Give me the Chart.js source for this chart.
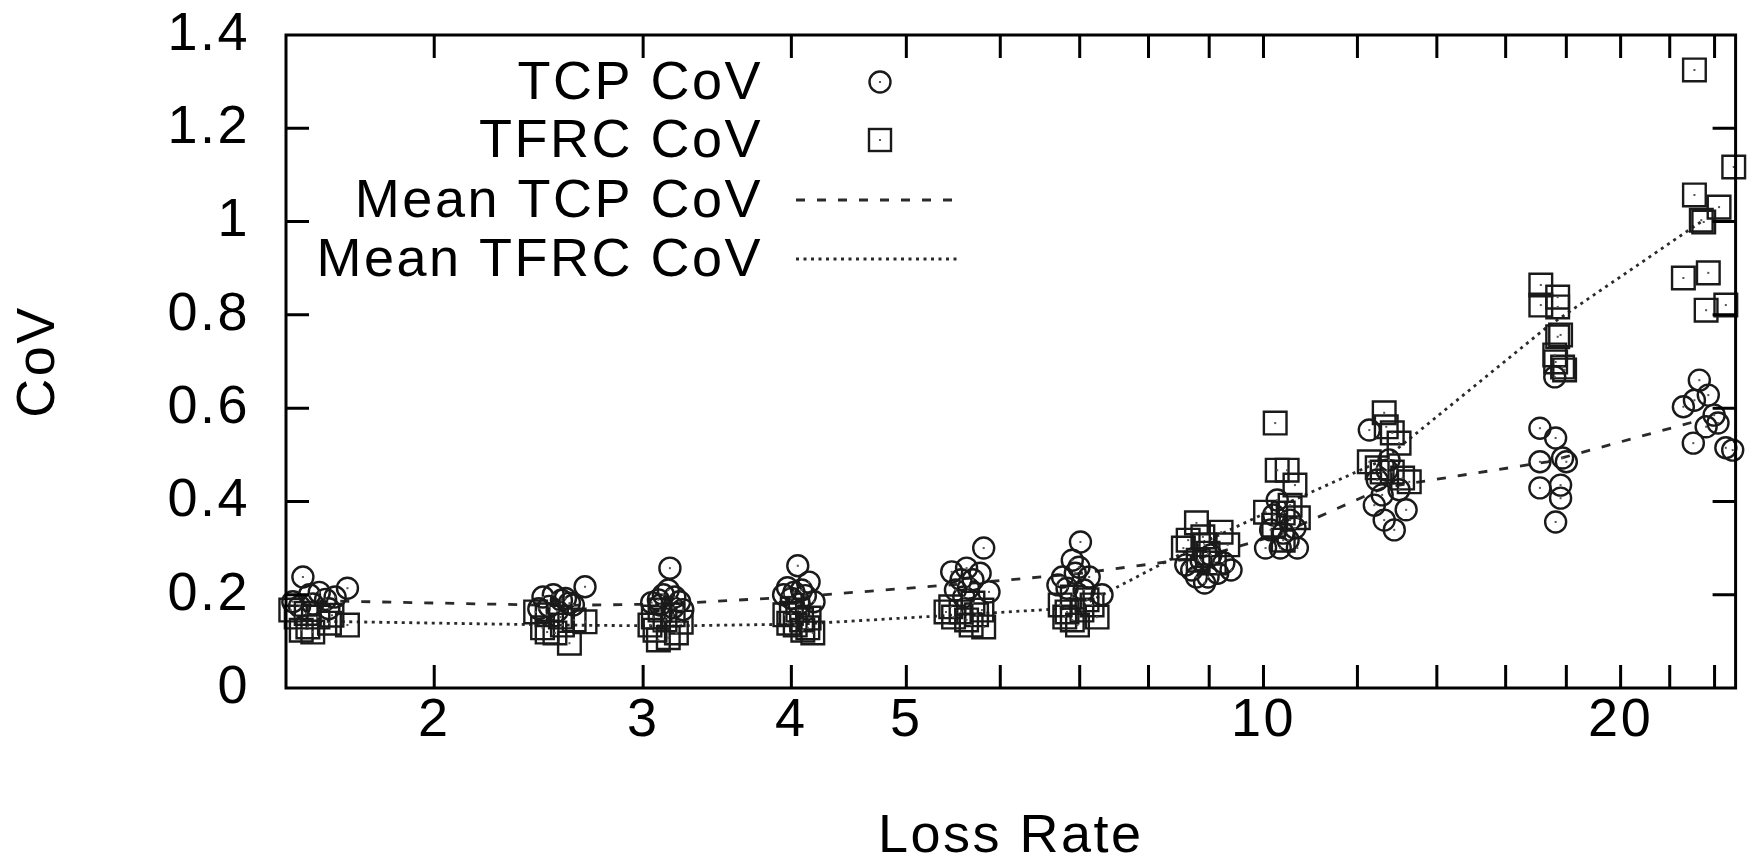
<!DOCTYPE html>
<html>
<head>
<meta charset="utf-8">
<title>CoV vs Loss Rate</title>
<script src="https://cdn.jsdelivr.net/npm/chart.js"></script>
<style>
  html, body { margin: 0; padding: 0; background: #fff; }
  #wrap { width: 1754px; height: 861px; }
</style>
</head>
<body>
<div id="wrap"><canvas id="covChart" width="1754" height="861"></canvas></div>
<script>
// ---- values (one line per loss-rate cluster) ----
const tcpLoss = [
  1.55, 1.69, 1.52, 1.57, 1.60, 1.62, 1.58, 1.65, 1.54, 1.63,
  2.68, 2.47, 2.52, 2.56, 2.60, 2.50, 2.58, 2.45, 2.54, 2.62,
  3.16, 3.15, 3.19, 3.09, 3.12, 3.22, 3.10, 3.18, 3.05, 3.24,
  4.05, 4.14, 3.97, 4.02, 4.08, 4.11, 3.94, 4.18, 4.00, 4.06,
  5.81, 5.46, 5.62, 5.77, 5.56, 5.69, 5.64, 5.50, 5.87, 5.59,
  7.01, 6.90, 6.99, 6.77, 6.94, 7.13, 7.31, 6.83, 7.06, 6.71,
  8.78, 8.98, 9.15, 9.26, 8.86, 8.60, 9.03, 9.39, 8.70, 8.92,
  10.04, 10.68, 10.33, 10.39, 10.27, 10.53, 10.14, 10.49, 10.20, 10.63,
  12.28, 12.59, 13.19, 12.64, 12.89, 12.47, 12.71, 13.01, 12.40, 12.76,
  17.10, 17.63, 17.10, 17.87, 18.00, 17.10, 17.80, 17.80, 17.63, 17.60,
  23.30, 23.71, 23.08, 22.59, 24.16, 23.61, 23.03, 24.53, 24.86, 23.98
];
const tcpCov = [
  0.238, 0.214, 0.185, 0.200, 0.205, 0.190, 0.180, 0.195, 0.175, 0.170,
  0.217, 0.195, 0.200, 0.188, 0.182, 0.175, 0.192, 0.170, 0.165, 0.178,
  0.257, 0.210, 0.195, 0.189, 0.200, 0.185, 0.178, 0.172, 0.183, 0.168,
  0.262, 0.227, 0.215, 0.205, 0.210, 0.198, 0.200, 0.185, 0.192, 0.180,
  0.300, 0.249, 0.257, 0.246, 0.232, 0.232, 0.214, 0.210, 0.206, 0.195,
  0.313, 0.274, 0.259, 0.238, 0.246, 0.238, 0.200, 0.214, 0.210, 0.221,
  0.238, 0.238, 0.246, 0.268, 0.274, 0.264, 0.285, 0.253, 0.253, 0.225,
  0.300, 0.300, 0.300, 0.332, 0.403, 0.360, 0.339, 0.317, 0.371, 0.343,
  0.553, 0.414, 0.382, 0.360, 0.339, 0.446, 0.467, 0.425, 0.392, 0.489,
  0.557, 0.536, 0.485, 0.493, 0.485, 0.429, 0.435, 0.407, 0.356, 0.667,
  0.660, 0.628, 0.617, 0.603, 0.568, 0.560, 0.525, 0.515, 0.510, 0.585
];
const tfrcLoss = [
  1.514, 1.56, 1.565, 1.632, 1.69, 1.545, 1.596, 1.64, 1.53, 1.58,
  2.435, 2.49, 2.555, 2.624, 2.68, 2.49, 2.60, 2.565, 2.468, 2.528,
  3.06, 3.18, 3.09, 3.20, 3.07, 3.13, 3.23, 3.04, 3.15, 3.10,
  4.00, 4.08, 4.13, 4.17, 3.98, 4.05, 3.95, 4.09, 4.03, 4.14,
  5.45, 5.56, 5.69, 5.79, 5.81, 5.62, 5.48, 5.73, 5.40, 5.67,
  6.80, 6.90, 7.10, 7.24, 6.90, 6.74, 7.03, 6.83, 7.17, 6.97,
  8.78, 8.64, 8.89, 9.21, 8.98, 9.09, 8.81, 8.56, 9.33, 8.92,
  10.23, 10.27, 10.47, 10.63, 10.04, 10.39, 10.70, 10.39, 10.20, 10.53,
  12.64, 12.69, 12.84, 13.01, 12.28, 12.59, 12.84, 13.27, 12.47, 13.10,
  17.13, 17.13, 17.70, 17.70, 17.80, 17.70, 17.60, 17.87, 17.94, 17.63,
  23.08, 24.91, 23.08, 24.21, 23.39, 23.50, 22.59, 23.71, 23.61, 24.53
];
const tfrcCov = [
  0.167, 0.160, 0.131, 0.139, 0.135, 0.124, 0.152, 0.156, 0.152, 0.120,
  0.163, 0.157, 0.152, 0.146, 0.142, 0.120, 0.096, 0.135, 0.129, 0.118,
  0.152, 0.157, 0.103, 0.118, 0.124, 0.146, 0.141, 0.135, 0.108, 0.167,
  0.160, 0.146, 0.129, 0.118, 0.139, 0.167, 0.157, 0.124, 0.135, 0.150,
  0.174, 0.163, 0.182, 0.167, 0.131, 0.146, 0.152, 0.157, 0.163, 0.135,
  0.152, 0.195, 0.189, 0.152, 0.146, 0.178, 0.167, 0.163, 0.178, 0.135,
  0.354, 0.317, 0.324, 0.334, 0.289, 0.268, 0.274, 0.300, 0.307, 0.307,
  0.568, 0.467, 0.467, 0.435, 0.377, 0.375, 0.365, 0.317, 0.349, 0.392,
  0.590, 0.560, 0.547, 0.525, 0.485, 0.463, 0.463, 0.442, 0.472, 0.450,
  0.864, 0.821, 0.838, 0.817, 0.757, 0.753, 0.714, 0.688, 0.682, 0.699,
  1.325, 1.117, 1.057, 1.031, 1.003, 0.999, 0.879, 0.890, 0.810, 0.821
];
const meanLoss = [1.60, 2.55, 3.14, 4.07, 5.63, 6.97, 8.86, 10.33, 12.64, 17.36, 23.39];
const meanTcpCov = [0.187, 0.177, 0.180, 0.196, 0.224, 0.245, 0.280, 0.330, 0.430, 0.485, 0.575];
const meanTfrcCov = [0.143, 0.135, 0.133, 0.137, 0.158, 0.172, 0.310, 0.390, 0.490, 0.775, 1.000];

const xTicks = [2, 3, 4, 5, 6, 7, 8, 9, 10, 12, 14, 16, 18, 20, 22, 24];
const xLabels = [2, 3, 4, 5, 10, 20];
const yTicks = [0, 0.2, 0.4, 0.6, 0.8, 1, 1.2, 1.4];
const seriesNames = ["TCP CoV", "TFRC CoV", "Mean TCP CoV", "Mean TFRC CoV"];

const FONT = '"Liberation Sans", Arial, Helvetica, sans-serif';
const FONT_SIZE = 54;
const SPACING = "2.5px";
const INK = "#1a1a1a";
const pairs = (xs, ys) => xs.map((x, i) => ({ x: x, y: ys[i] }));

Chart.defaults.font.family = FONT;
Chart.defaults.font.size = FONT_SIZE;
Chart.defaults.color = "#000";

// gnuplot-ish type is a bit wider than plain Arial
const wideText = {
  id: "wideText",
  beforeUpdate(chart) { chart.ctx.letterSpacing = SPACING; },
  beforeDraw(chart) { chart.ctx.letterSpacing = SPACING; }
};

// keep label overflow from pushing the plot box around
const noAutoPad = s => {
  s.paddingTop = 0;
  s.paddingBottom = 0;
  s.paddingLeft = 0;
  s.paddingRight = 0;
};

// border box + inward ticks on all four sides
const frameTicks = {
  id: "frameTicks",
  afterDatasetsDraw(chart) {
    const { ctx, chartArea: a, scales: { x, y } } = chart;
    const len = 23;
    ctx.save();
    ctx.strokeStyle = "#000";
    ctx.lineWidth = 3;
    ctx.setLineDash([]);
    ctx.beginPath();
    xTicks.forEach(v => {
      const px = x.getPixelForValue(v);
      ctx.moveTo(px, a.bottom); ctx.lineTo(px, a.bottom - len);
      ctx.moveTo(px, a.top); ctx.lineTo(px, a.top + len);
    });
    yTicks.slice(1, -1).forEach(v => {
      const py = y.getPixelForValue(v);
      ctx.moveTo(a.left, py); ctx.lineTo(a.left + len, py);
      ctx.moveTo(a.right, py); ctx.lineTo(a.right - len, py);
    });
    ctx.stroke();
    ctx.strokeRect(a.left, a.top, a.right - a.left, a.bottom - a.top);
    ctx.restore();
  }
};

// tiny dot in the middle of every marker
const centerDots = {
  id: "centerDots",
  afterDatasetsDraw(chart) {
    const ctx = chart.ctx;
    ctx.save();
    ctx.fillStyle = "#555";
    chart.data.datasets.forEach((ds, i) => {
      if (ds.showLine) return;
      chart.getDatasetMeta(i).data.forEach(pt => ctx.fillRect(pt.x - 1, pt.y - 1, 2, 2));
    });
    ctx.restore();
  }
};

// key sits inside the plot, text right-aligned with sample on its right
const keyBox = {
  id: "keyBox",
  afterDraw(chart) {
    const ctx = chart.ctx;
    const rows = [82, 140, 200, 259];
    ctx.save();
    ctx.font = FONT_SIZE + "px " + FONT;
    ctx.letterSpacing = SPACING;
    ctx.fillStyle = "#000";
    ctx.textAlign = "right";
    ctx.textBaseline = "middle";
    seriesNames.forEach((name, i) => ctx.fillText(name, 763, rows[i] + 2));

    ctx.strokeStyle = INK;
    ctx.lineWidth = 2.4;
    ctx.beginPath();
    ctx.arc(880, rows[0], 10.5, 0, Math.PI * 2);
    ctx.stroke();
    ctx.strokeRect(869, rows[1] - 11, 22, 22);
    ctx.fillStyle = "#555";
    ctx.fillRect(879, rows[0] - 1, 2, 2);
    ctx.fillRect(879, rows[1] - 1, 2, 2);

    ctx.strokeStyle = "#2a2a2a";
    ctx.lineWidth = 2.8;
    ctx.setLineDash([9, 12]);
    ctx.beginPath();
    ctx.moveTo(796, rows[2]); ctx.lineTo(953, rows[2]);
    ctx.stroke();
    ctx.setLineDash([3, 4.5]);
    ctx.beginPath();
    ctx.moveTo(796, rows[3]); ctx.lineTo(958, rows[3]);
    ctx.stroke();
    ctx.restore();
  }
};

new Chart(document.getElementById("covChart"), {
  type: "scatter",
  data: {
    datasets: [
      {
        label: seriesNames[0],
        data: pairs(tcpLoss, tcpCov),
        pointStyle: "circle",
        pointRadius: 10.5,
        pointBorderWidth: 2.4,
        pointBorderColor: INK,
        pointBackgroundColor: "rgba(0,0,0,0)",
        clip: false
      },
      {
        label: seriesNames[1],
        data: pairs(tfrcLoss, tfrcCov),
        pointStyle: "rect",
        pointRadius: 16,
        pointBorderWidth: 2.4,
        pointBorderColor: INK,
        pointBackgroundColor: "rgba(0,0,0,0)",
        clip: false
      },
      {
        label: seriesNames[2],
        data: pairs(meanLoss, meanTcpCov),
        showLine: true,
        pointRadius: 0,
        borderColor: "#2a2a2a",
        borderWidth: 2.8,
        borderDash: [9, 12],
        fill: false
      },
      {
        label: seriesNames[3],
        data: pairs(meanLoss, meanTfrcCov),
        showLine: true,
        pointRadius: 0,
        borderColor: "#2a2a2a",
        borderWidth: 2.8,
        borderDash: [3, 4.5],
        fill: false
      }
    ]
  },
  options: {
    responsive: false,
    animation: false,
    events: [],
    layout: { padding: { left: 0, top: 35, right: 5, bottom: 0 } },
    plugins: {
      legend: { display: false },
      tooltip: { enabled: false }
    },
    scales: {
      x: {
        type: "logarithmic",
        min: 1.5,
        max: 25,
        afterBuildTicks: s => { s.ticks = xTicks.map(v => ({ value: v })); },
        afterFit: s => { s.height = 173; noAutoPad(s); },
        grid: { display: false, drawTicks: false },
        border: { display: false },
        ticks: {
          autoSkip: false,
          maxRotation: 0,
          padding: 1,
          callback: v => (xLabels.includes(v) ? String(v) : "")
        },
        title: {
          display: true,
          text: "Loss Rate",
          font: { size: FONT_SIZE, lineHeight: 0.88 },
          padding: 0
        }
      },
      y: {
        min: 0,
        max: 1.4,
        afterBuildTicks: s => { s.ticks = yTicks.map(v => ({ value: v })); },
        afterFit: s => { s.width = 286; noAutoPad(s); },
        grid: { display: false, drawTicks: false },
        border: { display: false },
        ticks: {
          padding: 36,
          callback: v => String(v)
        },
        title: {
          display: true,
          text: "CoV",
          font: { size: FONT_SIZE, lineHeight: 1 },
          padding: { top: 12, bottom: 0 }
        }
      }
    }
  },
  plugins: [wideText, centerDots, frameTicks, keyBox]
});
</script>
</body>
</html>
